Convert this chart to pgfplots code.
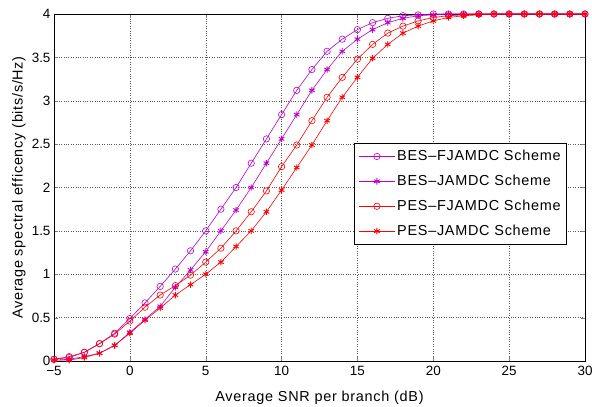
\documentclass[border=0pt]{standalone}
\usepackage{pgfplots}
\pgfplotsset{compat=1.18}
\usepackage{fontspec}
\setmainfont{Liberation Sans}
\newfontfamily\lsfont[LetterSpace=5]{Liberation Sans}

\definecolor{bespurple}{RGB}{190,0,205}
\definecolor{pesred}{RGB}{255,0,0}

\begin{document}
\begin{tikzpicture}[x=1bp,y=1bp]
\begin{axis}[
    name=ax,
    scale only axis,
    width=531bp, height=347bp,
    xmin=-5, xmax=30, ymin=0, ymax=4,
    xtick={-5,0,...,30}, ytick={0,0.5,...,4},
    xticklabels={−5,0,5,10,15,20,25,30},
    /pgf/number format/assume math mode=true,
    yticklabel style={/pgf/number format/fixed},
    xticklabel style={yshift=-2bp},
    tick label style={font=\fontsize{13.5}{15}\selectfont},
    xlabel={Average SNR per branch (dB)},
    ylabel={Average spectral efficency (bits/s/Hz)},
    xlabel style={font=\lsfont\fontsize{14.5}{16}\selectfont, at={(axis description cs:0.5,-0.106)}, anchor=center},
    ylabel style={font=\lsfont\fontsize{14.5}{16}\selectfont, at={(axis description cs:-0.066,0.5)}, anchor=center},
    grid=major,
    major grid style={dotted, black!65},
    tick align=inside,
    axis line style={line width=0.9pt},
    legend style={at={(0.966,0.628)}, anchor=north east, font=\lsfont\fontsize{14.5}{16}\selectfont,
        draw=black, line width=0.8pt, inner xsep=4pt, inner ysep=5pt, row sep=9pt},
    legend cell align=left,
    legend image code/.code={\draw[mark repeat=2,mark phase=2] plot coordinates {(0bp,0bp) (18bp,0bp) (36bp,0bp)};},
    every axis plot/.append style={line width=0.6pt, mark size=3.2bp},
]
\addplot[color=bespurple, mark=o] coordinates {
(-5,0.02) (-4,0.04) (-3,0.10) (-2,0.20) (-1,0.32) (0,0.49) (1,0.67) (2,0.86) (3,1.06) (4,1.27)
(5,1.50) (6,1.75) (7,2.00) (8,2.28) (9,2.56) (10,2.84) (11,3.12) (12,3.36) (13,3.57) (14,3.71)
(15,3.82) (16,3.90) (17,3.95) (18,3.98) (19,3.99) (20,4.00) (21,4.00) (22,4.00) (23,4.00) (24,4.00)
(25,4.00) (26,4.00) (27,4.00) (28,4.00) (29,4.00) (30,4.00)};
\addlegendentry{BES–FJAMDC Scheme}
\addplot[color=bespurple, mark=asterisk, mark options={line width=0.9pt}] coordinates {
(-5,0.01) (-4,0.02) (-3,0.05) (-2,0.09) (-1,0.18) (0,0.33) (1,0.48) (2,0.63) (3,0.85) (4,1.05)
(5,1.26) (6,1.50) (7,1.74) (8,2.00) (9,2.28) (10,2.56) (11,2.84) (12,3.12) (13,3.36) (14,3.57)
(15,3.71) (16,3.82) (17,3.90) (18,3.95) (19,3.98) (20,3.99) (21,4.00) (22,4.00) (23,4.00) (24,4.00)
(25,4.00) (26,4.00) (27,4.00) (28,4.00) (29,4.00) (30,4.00)};
\addlegendentry{BES–JAMDC Scheme}
\addplot[color=pesred, mark=o] coordinates {
(-5,0.02) (-4,0.05) (-3,0.10) (-2,0.20) (-1,0.31) (0,0.46) (1,0.62) (2,0.76) (3,0.87) (4,0.99)
(5,1.14) (6,1.30) (7,1.50) (8,1.72) (9,1.96) (10,2.24) (11,2.49) (12,2.77) (13,3.04) (14,3.27)
(15,3.48) (16,3.65) (17,3.78) (18,3.86) (19,3.92) (20,3.96) (21,3.98) (22,3.99) (23,4.00) (24,4.00)
(25,4.00) (26,4.00) (27,4.00) (28,4.00) (29,4.00) (30,4.00)};
\addlegendentry{PES–FJAMDC Scheme}
\addplot[color=pesred, mark=asterisk, mark options={line width=0.9pt}] coordinates {
(-5,0.01) (-4,0.01) (-3,0.04) (-2,0.09) (-1,0.18) (0,0.32) (1,0.47) (2,0.61) (3,0.76) (4,0.88)
(5,1.00) (6,1.14) (7,1.32) (8,1.50) (9,1.72) (10,1.97) (11,2.23) (12,2.49) (13,2.77) (14,3.04)
(15,3.27) (16,3.49) (17,3.65) (18,3.78) (19,3.86) (20,3.92) (21,3.96) (22,3.98) (23,3.99) (24,4.00)
(25,4.00) (26,4.00) (27,4.00) (28,4.00) (29,4.00) (30,4.00)};
\addlegendentry{PES–JAMDC Scheme}
\end{axis}
\pgfresetboundingbox
\path[use as bounding box] ([xshift=-54bp,yshift=-46bp]ax.south west) rectangle ([xshift=7bp,yshift=14bp]ax.north east);
\end{tikzpicture}
\end{document}
